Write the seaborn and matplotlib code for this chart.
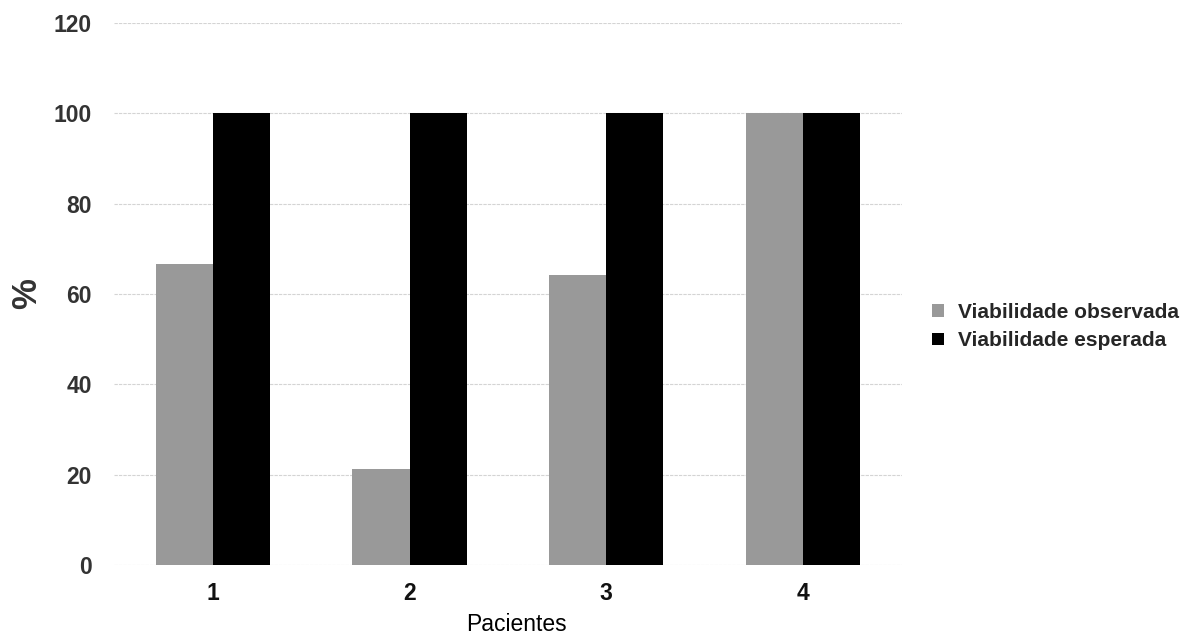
import pandas as pd
import matplotlib
matplotlib.use('Agg')
import matplotlib.pyplot as plt
import seaborn as sns

pacientes = ['1', '2', '3', '4']
observada = [66.7, 21.3, 64.2, 100]
esperada = [100, 100, 100, 100]
series = ['Viabilidade observada', 'Viabilidade esperada']
cores = ['#999999', '#000000']

df = pd.DataFrame({
    'Pacientes': pacientes * 2,
    'valor': observada + esperada,
    'serie': [series[0]] * 4 + [series[1]] * 4,
})

sns.set_style('white')
plt.rcParams['font.family'] = ['Liberation Sans', 'DejaVu Sans']

fig = plt.figure(figsize=(11.84, 6.37), dpi=100)
ax = fig.add_axes([0.0965, 0.113, 0.665, 0.851])

sns.barplot(data=df, x='Pacientes', y='valor', hue='serie', palette=cores,
            width=0.58, saturation=1, linewidth=0, ax=ax, zorder=3)

ax.set_ylim(0, 120)
ax.set_yticks(range(0, 121, 20))
ax.yaxis.grid(True, color='#d4d4d4', linestyle=(0, (3, 1)), linewidth=0.8, zorder=0)
ax.set_axisbelow(True)
for s in ax.spines.values():
    s.set_visible(False)
ax.tick_params(axis='y', length=0, labelsize=16.5, labelcolor='#333333', pad=16)
ax.tick_params(axis='x', length=0, labelsize=16.5, labelcolor='#111111', pad=12)
for lab in ax.get_xticklabels() + ax.get_yticklabels():
    lab.set_fontweight('bold')

ax.set_ylabel('%', fontsize=25, fontweight='bold', color='#333333', labelpad=8)
ax.set_xlabel('Pacientes', fontsize=16.5, color='black', labelpad=6, x=0.511)

leg = ax.legend(loc='center left', bbox_to_anchor=(1.015, 0.44), frameon=False,
                handlelength=0.55, handleheight=0.55, handletextpad=0.7,
                labelspacing=0.45, prop={'weight': 'bold', 'size': 15})

fig.savefig('out.png', dpi=100)
